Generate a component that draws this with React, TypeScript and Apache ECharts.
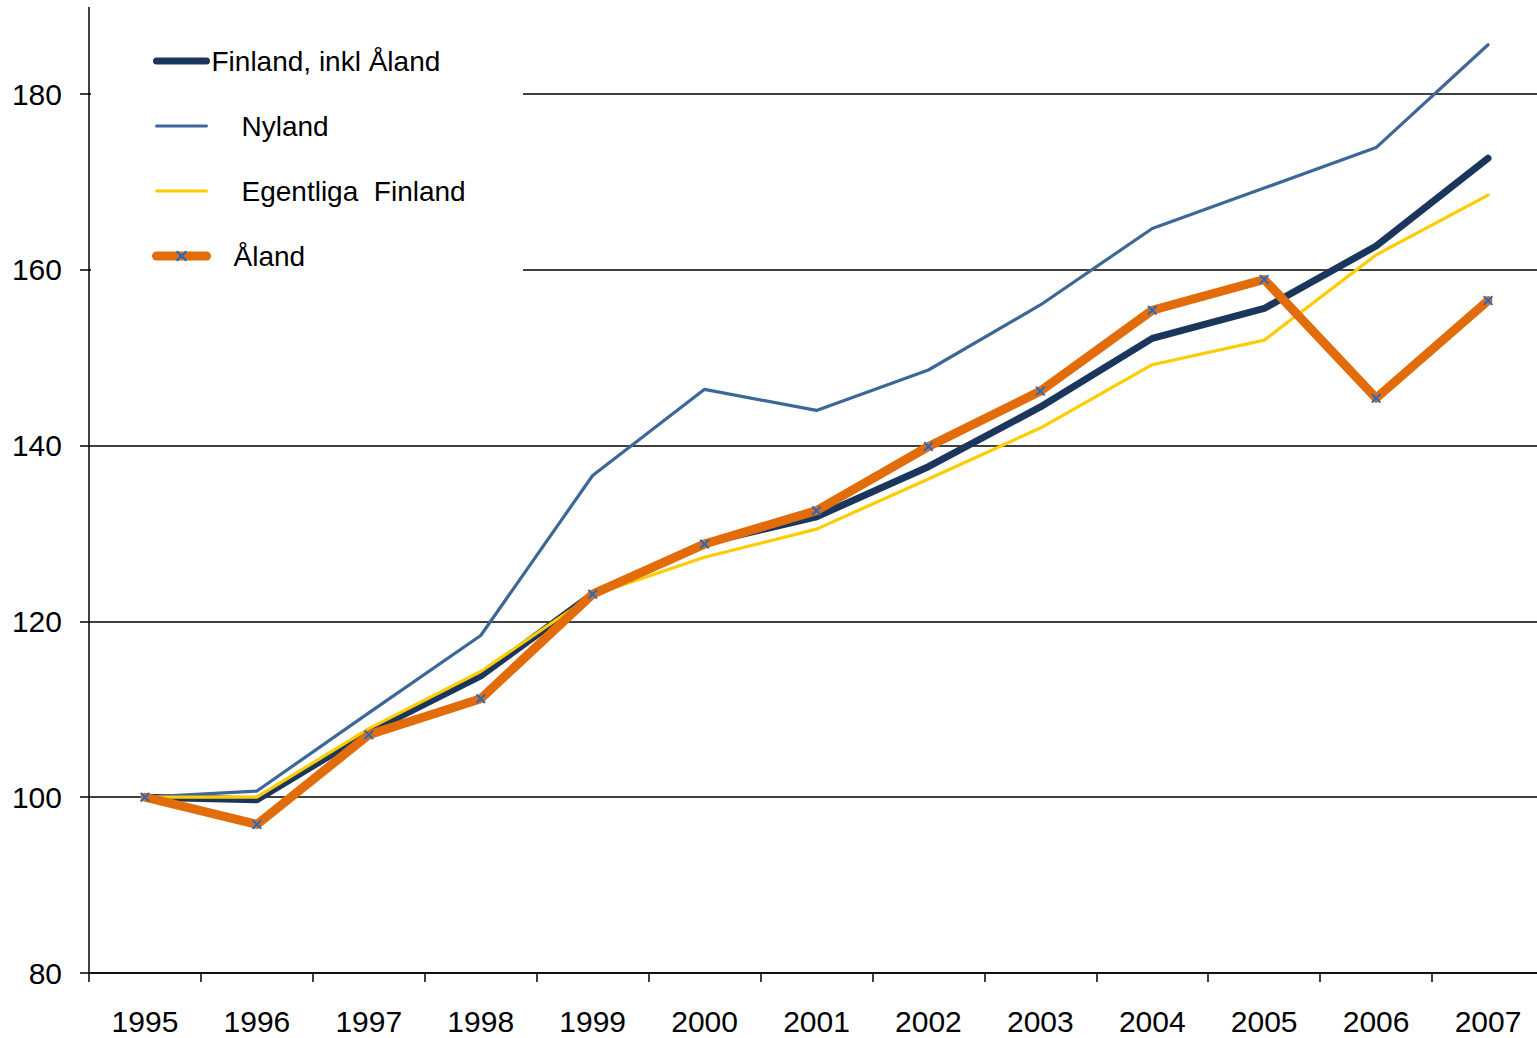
import React, { useEffect, useRef } from "react";
import * as echarts from "echarts";

const years = ["1995", "1996", "1997", "1998", "1999", "2000", "2001", "2002", "2003", "2004", "2005", "2006", "2007"];
const seriesNames = ["Finland, inkl Åland", "Nyland", "Egentliga Finland", "Åland"];
const finland = [100, 99.7, 107.4, 113.8, 123.1, 128.9, 131.9, 137.6, 144.4, 152.2, 155.6, 162.7, 172.7];
const nyland = [100, 100.7, 109.6, 118.4, 136.6, 146.4, 144.0, 148.6, 156.0, 164.7, 169.3, 173.9, 185.6];
const egentliga = [100, 100.0, 107.8, 114.3, 123.0, 127.3, 130.5, 136.2, 142.0, 149.2, 152.0, 161.7, 168.5];
const aland = [100, 96.9, 107.1, 111.2, 123.1, 128.8, 132.6, 139.9, 146.2, 155.4, 158.9, 145.4, 156.5];
const yMin = 80;
const yMax = 180;
const yInterval = 20;

const FONT = "'Liberation Sans', Arial, sans-serif";
const NAVY = "#1b365d";
const STEEL = "#3c6797";
const YELLOW = "#ffcc00";
const ORANGE = "#e36c0a";
const XBLUE = "#1a6ad0";
const XPATH = "path://M0,1.4L1.4,0L5,3.6L8.6,0L10,1.4L6.4,5L10,8.6L8.6,10L5,6.4L1.4,10L0,8.6L3.6,5Z";

export default function App() {
  const ref = useRef<HTMLDivElement>(null);
  useEffect(() => {
    if (!ref.current) return;
    const chart = echarts.init(ref.current, null, { renderer: "svg" });
    const richBase = { fontSize: 28, fontFamily: FONT, color: "#000", lineHeight: 30 };
    chart.setOption({
      animation: false,
      backgroundColor: "#fff",
      grid: { left: 89, right: -7, top: 94, bottom: 65, containLabel: false, outerBoundsMode: "none" },
      legend: {
        orient: "vertical",
        left: 152,
        top: 46,
        padding: 0,
        itemWidth: 50,
        itemHeight: 14,
        itemGap: 35,
        selectedMode: false,
        textStyle: {
          ...richBase,
          rich: {
            p0: { ...richBase },
            p1: { ...richBase, padding: [0, 0, 0, 30] },
            p2: { ...richBase, padding: [0, 0, 0, 30] },
            p3: { ...richBase, padding: [0, 0, 0, 22] },
          },
        },
        formatter: (name: string) => {
          const i = seriesNames.indexOf(name);
          const shown = i === 2 ? "Egentliga  Finland" : name;
          return `{p${i}|${shown}}`;
        },
        data: [
          { name: seriesNames[0], itemStyle: { opacity: 0 }, lineStyle: { width: 7, color: NAVY, cap: "round" } },
          { name: seriesNames[1], itemStyle: { opacity: 0 }, lineStyle: { width: 3, color: STEEL, cap: "round" } },
          { name: seriesNames[2], itemStyle: { opacity: 0 }, lineStyle: { width: 3, color: YELLOW, cap: "round" } },
          { name: seriesNames[3], itemStyle: { color: XBLUE, opacity: 1 }, lineStyle: { width: 9, color: ORANGE, cap: "round" } },
        ],
      },
      xAxis: {
        type: "category",
        data: years,
        boundaryGap: true,
        axisLine: { show: true, lineStyle: { color: "#000", width: 1.5 } },
        axisTick: { show: true, inside: false, length: 9, alignWithLabel: false, lineStyle: { color: "#000", width: 1.5 } },
        axisLabel: { fontSize: 30, fontFamily: FONT, color: "#000", margin: 33 },
        splitLine: { show: false },
      },
      yAxis: {
        type: "value",
        min: yMin,
        max: yMax,
        interval: yInterval,
        axisLine: { show: true, lineStyle: { color: "#000", width: 1.5 } },
        axisTick: { show: true, inside: false, length: 9, lineStyle: { color: "#000", width: 1.5 } },
        axisLabel: { fontSize: 30, fontFamily: FONT, color: "#000", margin: 27 },
        splitLine: { show: true, lineStyle: { color: "#000", width: 1.5 } },
      },
      graphic: [
        { type: "rect", left: 91, top: 20, z: 1, silent: true, shape: { width: 432, height: 258 }, style: { fill: "#fff" } },
        { type: "line", z: 1, silent: true, shape: { x1: 89, y1: 7, x2: 89, y2: 95 }, style: { stroke: "#000", lineWidth: 1.5 } },
      ],
      series: [
        { name: seriesNames[0], type: "line", data: finland, symbol: "none", clip: false, itemStyle: { color: NAVY }, lineStyle: { color: NAVY, width: 7, cap: "round", join: "round" } },
        { name: seriesNames[1], type: "line", data: nyland, symbol: "none", clip: false, itemStyle: { color: STEEL }, lineStyle: { color: STEEL, width: 3.2, cap: "round", join: "round" } },
        { name: seriesNames[2], type: "line", data: egentliga, symbol: "none", clip: false, itemStyle: { color: YELLOW }, lineStyle: { color: YELLOW, width: 3.2, cap: "round", join: "round" } },
        { name: seriesNames[3], type: "line", data: aland, symbol: XPATH, symbolSize: 10, showSymbol: true, clip: false, itemStyle: { color: XBLUE }, lineStyle: { color: ORANGE, width: 9, cap: "round", join: "round" } },
      ],
    });
    return () => chart.dispose();
  }, []);
  return <div ref={ref} style={{ position: "absolute", left: 0, top: 0, width: 1537, height: 1038 }} />;
}
